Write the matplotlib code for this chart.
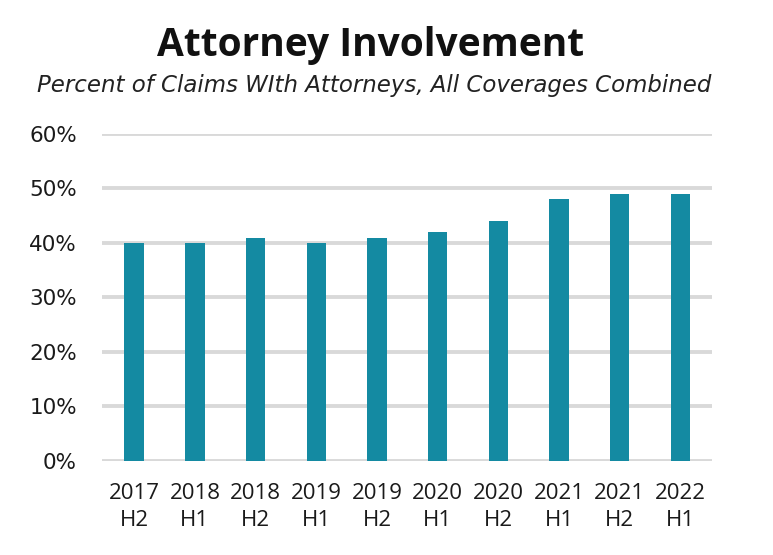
import matplotlib
matplotlib.use("Agg")
import matplotlib.pyplot as plt
from matplotlib.ticker import FuncFormatter

# --- data ---
periods = ["2017\nH2", "2018\nH1", "2018\nH2", "2019\nH1", "2019\nH2",
           "2020\nH1", "2020\nH2", "2021\nH1", "2021\nH2", "2022\nH1"]
pct_attorney = [40, 40, 41, 40, 41, 42, 44, 48, 49, 49]
yticks = [0, 10, 20, 30, 40, 50, 60]

plt.rcParams["font.family"] = ["Open Sans", "DejaVu Sans"]

fig = plt.figure(figsize=(7.73, 5.55), dpi=100)
ax = fig.add_axes([0.132, 0.1694, 0.789, 0.5892])

x = range(len(periods))
ax.bar(x, pct_attorney, width=0.32, color="#148AA2", zorder=3)

ax.set_ylim(0, 60)
ax.set_xlim(-0.53, len(periods) - 0.48)
ax.set_yticks(yticks)
ax.yaxis.set_major_formatter(FuncFormatter(lambda v, _: f"{v:.0f}%"))
ax.set_xticks(list(x))
ax.set_xticklabels(periods)

ax.grid(axis="y", color="#D9D9D9", linewidth=2.8, zorder=0)
ax.set_axisbelow(True)
for s in ax.spines.values():
    s.set_visible(False)
ax.tick_params(length=0)
ax.tick_params(axis="y", labelsize=15.5, pad=18, colors="#1a1a1a")
ax.tick_params(axis="x", labelsize=16, pad=15.5, colors="#1a1a1a")
for lbl in ax.get_yticklabels():
    lbl.set_family("DejaVu Sans")
for lbl in ax.get_xticklabels():
    lbl.set_linespacing(1.4)

fig.text(0.479, 0.899, "Attorney Involvement", ha="center", va="baseline",
         fontsize=28, fontweight="bold", color="#111111")
fig.text(0.4845, 0.835, "Percent of Claims WIth Attorneys, All Coverages Combined",
         ha="center", va="baseline", fontsize=16.5, style="italic", color="#222222",
         family="DejaVu Sans")

fig.savefig("out.png", dpi=100, facecolor="white")
